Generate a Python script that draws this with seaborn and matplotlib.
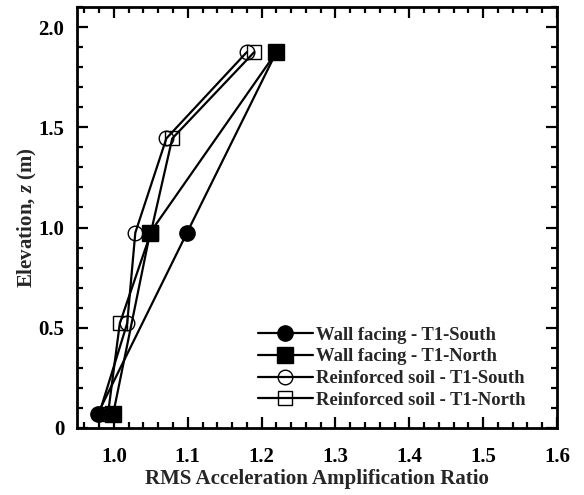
import matplotlib
matplotlib.use("Agg")
import matplotlib.pyplot as plt
import seaborn as sns
import pandas as pd
from matplotlib.ticker import MultipleLocator, FuncFormatter

sns.set_theme(style="ticks")
plt.rcParams['font.family'] = ['Liberation Serif', 'DejaVu Serif']
plt.rcParams['font.weight'] = 'bold'
plt.rcParams['mathtext.fontset'] = 'custom'
plt.rcParams['mathtext.it'] = 'Liberation Serif:italic:bold'
plt.rcParams['mathtext.rm'] = 'Liberation Serif:bold'

# Data
wall_south_x = [0.978, 1.099, 1.220]
wall_south_z = [0.07, 0.974, 1.875]
wall_north_x = [0.999, 1.049, 1.220]
wall_north_z = [0.07, 0.974, 1.875]
soil_south_x = [0.980, 1.018, 1.029, 1.071, 1.180]
soil_south_z = [0.07, 0.522, 0.974, 1.444, 1.875]
soil_north_x = [0.992, 1.008, 1.050, 1.079, 1.190]
soil_north_z = [0.07, 0.522, 0.974, 1.444, 1.875]

series = [
    ("Wall facing - T1-South", wall_south_x, wall_south_z, "o", "black", 11, 5),
    ("Wall facing - T1-North", wall_north_x, wall_north_z, "s", "black", 11, 5),
    ("Reinforced soil - T1-South", soil_south_x, soil_south_z, "o", "none", 10.5, 3),
    ("Reinforced soil - T1-North", soil_north_x, soil_north_z, "s", "none", 10, 3),
]

fig = plt.figure(figsize=(5.84, 4.95), dpi=100)
ax = fig.add_axes([0.1318, 0.1354, 0.822, 0.8505])

for label, xs, zs, mk, fc, ms, zo in series:
    df = pd.DataFrame({"x": xs, "z": zs})
    sns.lineplot(data=df, x="x", y="z", sort=False, ax=ax, color="black",
                 linewidth=1.6, marker=mk, markersize=ms,
                 markerfacecolor=fc, markeredgecolor="black", markeredgewidth=1.0,
                 label=label, zorder=zo)

ax.set_xlim(0.95, 1.6)
ax.set_ylim(0, 2.1)
ax.xaxis.set_major_locator(MultipleLocator(0.1))
ax.xaxis.set_minor_locator(MultipleLocator(0.02))
ax.yaxis.set_major_locator(MultipleLocator(0.5))
ax.yaxis.set_minor_locator(MultipleLocator(0.1))
ax.xaxis.set_major_formatter(FuncFormatter(lambda v, p: f"{v:.1f}"))
ax.yaxis.set_major_formatter(FuncFormatter(lambda v, p: "0" if abs(v) < 1e-9 else f"{v:.1f}"))

ax.tick_params(which="both", direction="in", top=True, right=True, width=1.6,
               labelsize=15, color="black", labelcolor="black")
ax.tick_params(axis="x", which="major", pad=14)
ax.tick_params(axis="y", which="major", pad=9)
ax.tick_params(which="major", length=8)
ax.tick_params(which="minor", length=4.5)
for lab in ax.get_xticklabels() + ax.get_yticklabels():
    lab.set_fontweight("bold")
for s in ax.spines.values():
    s.set_linewidth(2)
    s.set_color("black")

ax.set_xlabel("RMS Acceleration Amplification Ratio", fontsize=15, fontweight="bold", labelpad=1)
ax.set_ylabel("Elevation, $\\it{z}$ (m)", fontsize=15, fontweight="bold", labelpad=0)

leg = ax.legend(loc="lower right", frameon=False, fontsize=13.4, handlelength=3.0,
                handletextpad=0.16, labelspacing=0.25, borderaxespad=0.5,
                bbox_to_anchor=(0.97, 0.006))
for t in leg.get_texts():
    t.set_fontweight("bold")

fig.savefig("out.png", dpi=100)
